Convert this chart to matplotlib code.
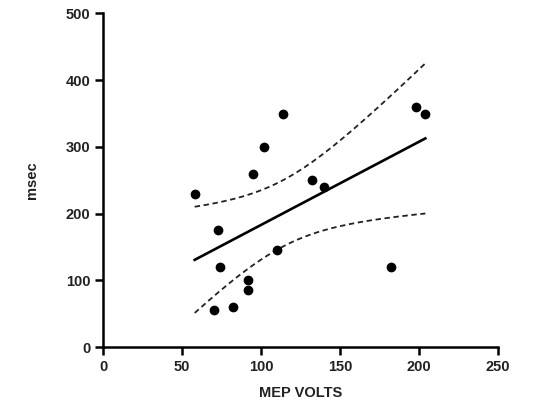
import numpy as np
import matplotlib
matplotlib.use("Agg")
import matplotlib.pyplot as plt

plt.rcParams["font.family"] = ["Liberation Sans", "DejaVu Sans"]
plt.rcParams["font.weight"] = "bold"

# MEP amplitude vs latency
mep_volts = [58, 73, 74, 70, 82, 92, 92, 95, 102, 114, 110, 132, 140, 198, 204, 182]
msec = [230, 175, 120, 55, 60, 100, 85, 260, 300, 350, 145, 250, 240, 360, 350, 120]

x_ticks = [0, 50, 100, 150, 200, 250]
y_ticks = [0, 100, 200, 300, 400, 500]

x = np.array(mep_volts, dtype=float)
y = np.array(msec, dtype=float)

# linear fit + 95% confidence band of the mean
slope, intercept = np.polyfit(x, y, 1)
n = len(x)
resid = y - (slope * x + intercept)
s = np.sqrt(np.sum(resid ** 2) / (n - 2))
sxx = np.sum((x - x.mean()) ** 2)
t_crit = 2.1448  # t(0.975, df=14)

xf = np.linspace(x.min(), x.max(), 200)
yf = slope * xf + intercept
half = t_crit * s * np.sqrt(1 / n + (xf - x.mean()) ** 2 / sxx)

fig = plt.figure(figsize=(5.34, 4.08), dpi=100)
ax = fig.add_axes([0.193, 0.1495, 0.7396, 0.8175])

ax.scatter(x, y, s=36, color="black", zorder=3)
ax.plot(xf, yf, color="black", lw=1.9)
ax.plot(xf, yf + half, color="#222222", lw=1.3, ls=(0, (3, 2)))
ax.plot(xf, yf - half, color="#222222", lw=1.3, ls=(0, (3, 2)))

ax.set_xlim(0, 250)
ax.set_ylim(0, 500)
ax.set_xticks(x_ticks)
ax.set_yticks(y_ticks)

for side in ["top", "right"]:
    ax.spines[side].set_visible(False)
for side in ["left", "bottom"]:
    ax.spines[side].set_linewidth(1.8)

ax.tick_params(direction="out", length=6, width=1.8, labelsize=10.5, pad=3,
               labelcolor="#222222")
ax.set_xlabel("MEP VOLTS", fontsize=10.5, fontweight="bold", labelpad=9,
              color="#222222")
ax.set_ylabel("msec", fontsize=10.5, fontweight="bold", labelpad=19,
              color="#222222")

fig.savefig("out.png", dpi=100)
